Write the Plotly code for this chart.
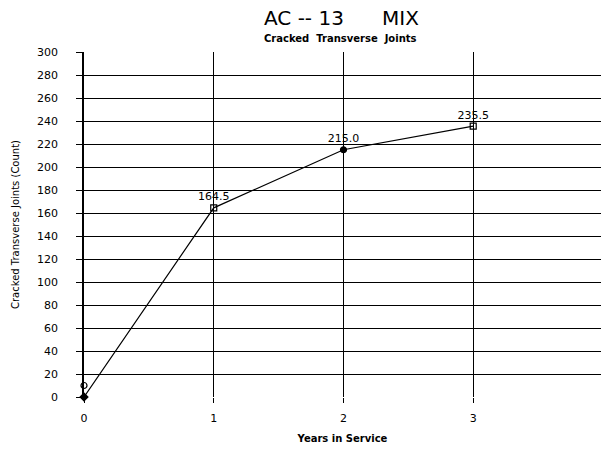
import plotly.graph_objects as go

years = [0, 1, 2, 3]
joints = [0, 164.5, 215.0, 235.5]
point_labels = ["", "164.5", "215.0", "235.5"]
extra_x = [0]
extra_y = [10]
y_ticks = list(range(0, 301, 20))
x_ticks = [0, 1, 2, 3]

L, R, T, B = 84, 0, 52, 53
W, H = 601, 450
pw, ph = W - L - R, H - T - B

def px(x):
    return (x - L) / pw

def py(y):
    return (H - B - y) / ph

fig = go.Figure()
fig.add_trace(go.Scatter(
    x=years, y=joints, mode="lines+markers+text",
    text=point_labels, textposition="top center",
    textfont=dict(family="DejaVu Sans", size=11, color="black"),
    line=dict(color="black", width=1.2),
    marker=dict(symbol=["diamond", "square-open", "circle", "square-open"], size=6,
                color="black", line=dict(color="black", width=1.2)),
    showlegend=False, cliponaxis=False))
fig.add_trace(go.Scatter(
    x=extra_x, y=extra_y, mode="markers",
    marker=dict(symbol="circle-open", size=6, color="black", line=dict(width=1.2)),
    showlegend=False, cliponaxis=False))

fig.update_layout(
    width=W, height=H,
    margin=dict(l=L, r=R, t=T, b=B, autoexpand=False),
    paper_bgcolor="white", plot_bgcolor="white",
    font=dict(family="DejaVu Sans", color="black"),
    annotations=[
        dict(text="AC -- 13      MIX", x=px(341), y=py(18), xref="paper", yref="paper",
             xanchor="center", yanchor="middle", showarrow=False,
             font=dict(size=20, family="DejaVu Sans", color="black")),
        dict(text="<b>Cracked  Transverse  Joints</b>", x=px(340), y=py(39), xref="paper", yref="paper",
             xanchor="center", yanchor="middle", showarrow=False,
             font=dict(size=10, family="DejaVu Sans", color="black")),
    ],
)

fig.update_xaxes(
    range=[0, 3.985], tickvals=x_ticks, ticktext=[str(v) for v in x_ticks],
    showgrid=True, gridcolor="black", gridwidth=1,
    showline=False, zeroline=False,
    ticks="outside", ticklen=5, tickcolor="black",
    tickfont=dict(size=11, family="DejaVu Sans", color="black"),
    ticklabelstandoff=6, automargin=False,
    title=dict(text="<b>Years in Service</b>", font=dict(size=10, color="black"), standoff=10))
fig.update_yaxes(
    range=[0, 300], tickvals=y_ticks,
    showgrid=True, gridcolor="black", gridwidth=1,
    showline=True, linecolor="black", linewidth=1.5, zeroline=False,
    ticks="outside", ticklen=6, tickcolor="black",
    tickfont=dict(size=11, family="DejaVu Sans", color="black"),
    ticklabelstandoff=16, automargin=False,
    title=dict(text="Cracked Transverse Joints (Count)", font=dict(size=10, color="black"), standoff=16))

fig.write_html("out.html", config={"displayModeBar": False},
               post_script="document.body.style.margin='0';")
